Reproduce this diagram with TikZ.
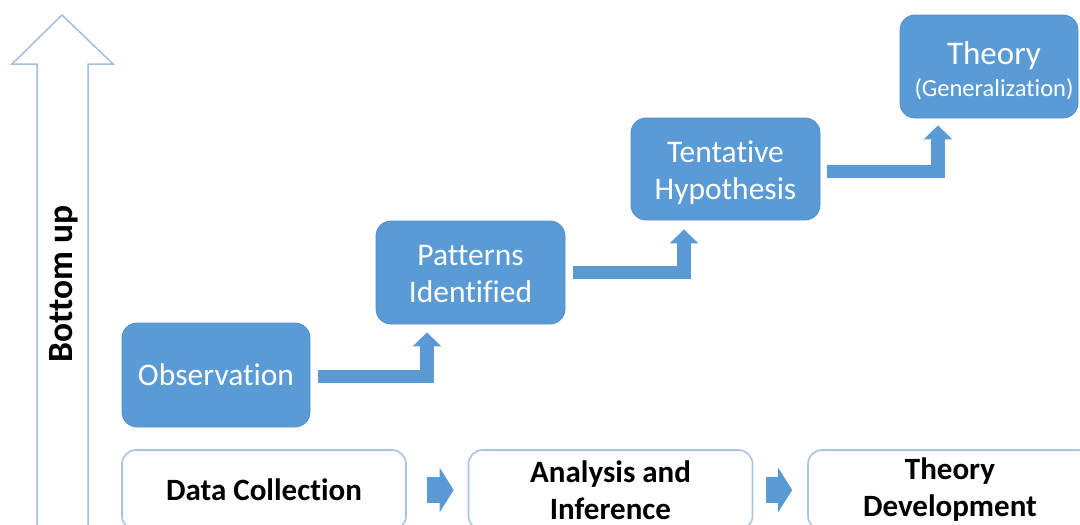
\documentclass[tikz,border=0pt]{standalone}
\usepackage{fontspec}
\setmainfont{Carlito}[Ligatures=NoCommon]
\usetikzlibrary{arrows.meta}
\definecolor{boxblue}{HTML}{5B9BD5}
\definecolor{edgeblue}{HTML}{A9C4E3}
\definecolor{bigedge}{HTML}{A3BFDE}
\tikzset{
  stage/.style={rectangle, rounded corners=15pt, fill=boxblue, draw=boxblue!92!black,
    line width=0.8pt, text=white, align=center, inner sep=0pt,
    font=\fontsize{31.5}{37}\selectfont},
  phase/.style={rectangle, rounded corners=14pt, draw=edgeblue, line width=1.6pt,
    fill=white, minimum width=284pt, minimum height=80pt, align=center, inner sep=0pt,
    font=\bfseries\fontsize{31}{37}\selectfont},
  bent/.style={draw=boxblue, line width=13.5pt, line join=miter,
    -{Triangle[width=28pt,length=14pt]}},
  block/.style={draw=boxblue, line width=26pt,
    -{Triangle[width=44pt,length=14pt]}},
}
\begin{document}
\begin{tikzpicture}[x=1pt,y=-1pt]
\useasboundingbox (0,0) rectangle (1080,525);
% big outline arrow
\draw[bigedge, line width=1.5pt, line join=miter]
  (37,545) -- (37,64) -- (12,64) -- (62,15) -- (113,64) -- (88,64) -- (88,545);
\node[rotate=90, font=\bfseries\fontsize{35.5}{40}\selectfont] (bu) at (64,284) {Bottom up};
% stages
\node[stage, minimum width=188pt, minimum height=104pt] (obs) at (216,375) {Observation};
\node[stage, minimum width=189pt, minimum height=103pt] (pat) at (470.5,272.5)
  {\raisebox{-10pt}[0pt][0pt]{\begin{tabular}{@{}c@{}}Patterns\\[0pt]Identified\end{tabular}}};
\node[stage, minimum width=189pt, minimum height=102pt] (ten) at (725.5,169)
  {\raisebox{-11pt}[0pt][0pt]{\begin{tabular}{@{}c@{}}Tentative\\[0pt]Hypothesis\end{tabular}}};
\node[stage, minimum width=178pt, minimum height=103pt] (the) at (989,66.5)
  {\hspace*{10pt}\raisebox{-13pt}[0pt][0pt]{\begin{tabular}{@{}c@{}}\fontsize{33}{36}\selectfont Theory\\[-5pt]\fontsize{24.5}{27}\selectfont (Generalization)\end{tabular}}};
% bent connectors
\draw[bent] ([xshift=8pt,yshift=-1.5pt]obs.east) -| ([xshift=-43.5pt,yshift=-8pt]pat.south);
\draw[bent] ([xshift=8pt]pat.east) -| ([xshift=-41.5pt,yshift=-9pt]ten.south);
\draw[bent] ([xshift=7pt,yshift=-2.5pt]ten.east) -| ([xshift=-51pt,yshift=-7pt]the.south);
% phases
\node[phase] (dc) at (264,490) {Data Collection};
\node[phase] (ai) at (610.5,490) {Analysis and\\Inference};
\node[phase] (td) at (950,490) {Theory\\Development};
\draw[block] ([xshift=20pt]dc.east) -- ([xshift=-14pt]ai.west);
\draw[block] ([xshift=13pt]ai.east) -- ([xshift=-15pt]td.west);
\end{tikzpicture}
\end{document}
